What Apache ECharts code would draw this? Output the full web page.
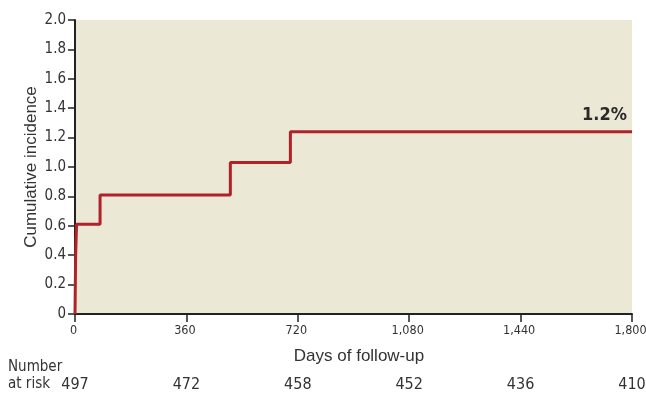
<!DOCTYPE html>
<html>
<head>
<meta charset="utf-8">
<script src="https://cdn.jsdelivr.net/npm/echarts@6/dist/echarts.min.js"></script>
<style>
  html, body { margin: 0; padding: 0; background: #ffffff; }
  #chart { width: 646px; height: 393px; }
</style>
</head>
<body>
<div id="chart"></div>
<script>
// Cumulative incidence (%), step changes at these follow-up days
const eventDays = [0, 2, 5, 81, 502, 696, 1800];
const incidence = [0, 0.39, 0.61, 0.81, 1.03, 1.24, 1.24];

// Axis ticks and the number-at-risk row under each tick
const dayTicks = [0, 360, 720, 1080, 1440, 1800];
const atRisk = [497, 472, 458, 452, 436, 410];

const narrow = '"Liberation Sans Narrow", "DejaVu Sans Condensed", "Liberation Sans", sans-serif';
const regular = '"Liberation Sans", Arial, sans-serif';
const textColor = '#333333';
const axisColor = '#222222';

const lastDay = eventDays[eventDays.length - 1];
const lastValue = incidence[incidence.length - 1];

const fmtThousands = v => v.toLocaleString('en-US');

const chart = echarts.init(document.getElementById('chart'));
chart.setOption({
  animation: false,
  grid: {
    left: 75, right: 14, top: 20, bottom: 79,
    outerBoundsMode: 'none',
    containLabel: false,
    show: true, backgroundColor: '#ece8d6', borderWidth: 0
  },
  xAxis: [{
    type: 'value',
    min: 0, max: 1800, interval: 360,
    name: 'Days of follow-up',
    nameLocation: 'middle',
    nameGap: 34,
    nameMoveOverlap: false,
    nameTextStyle: { fontFamily: regular, fontSize: 17, color: textColor, padding: [0, 0, 0, 11] },
    axisLine: { lineStyle: { color: axisColor, width: 2 } },
    axisTick: { length: 8, lineStyle: { color: axisColor, width: 1.5 } },
    axisLabel: {
      fontFamily: narrow, fontSize: 12.5, color: textColor, margin: 10,
      padding: [0, 3, 0, 0], formatter: fmtThousands
    },
    splitLine: { show: false }
  }, {
    type: 'value',
    position: 'bottom',
    offset: 63,
    min: 0, max: 1800, interval: 360,
    axisLine: { show: false },
    axisTick: { show: false },
    axisLabel: {
      fontFamily: narrow, fontSize: 16, color: textColor, margin: 0,
      formatter: v => String(atRisk[dayTicks.indexOf(v)])
    },
    splitLine: { show: false }
  }],
  yAxis: {
    type: 'value',
    min: 0, max: 2.0, interval: 0.2,
    name: 'Cumulative incidence',
    nameLocation: 'middle',
    nameGap: 35,
    nameMoveOverlap: false,
    nameTextStyle: { fontFamily: regular, fontSize: 17, color: textColor },
    axisLine: { show: true, lineStyle: { color: axisColor, width: 2 } },
    axisTick: { show: true, length: 7, lineStyle: { color: axisColor, width: 1.5 } },
    axisLabel: {
      fontFamily: narrow, fontSize: 15, color: textColor, margin: 9,
      formatter: v => (v === 0 ? '0' : v.toFixed(1))
    },
    splitLine: { show: false }
  },
  graphic: [{
    type: 'text',
    left: 8, top: 359,
    style: {
      text: 'Number\nat risk',
      font: '15px ' + narrow,
      fill: textColor,
      lineHeight: 17
    }
  }],
  series: [{
    type: 'line',
    xAxisIndex: 0,
    step: 'end',
    data: eventDays.map((d, i) => [d, incidence[i]]),
    showSymbol: false,
    symbol: 'none',
    clip: false,
    lineStyle: { color: '#b0222a', width: 3 },
    markPoint: {
      symbol: 'circle',
      symbolSize: 0,
      silent: true,
      label: {
        show: true,
        position: 'top',
        align: 'right',
        offset: [-5, -2],
        formatter: lastValue.toFixed(1) + '%',
        fontFamily: narrow,
        fontWeight: 'bold',
        fontSize: 18,
        color: '#2a2a2a'
      },
      data: [{ coord: [lastDay, lastValue] }]
    }
  }]
});
</script>
</body>
</html>
